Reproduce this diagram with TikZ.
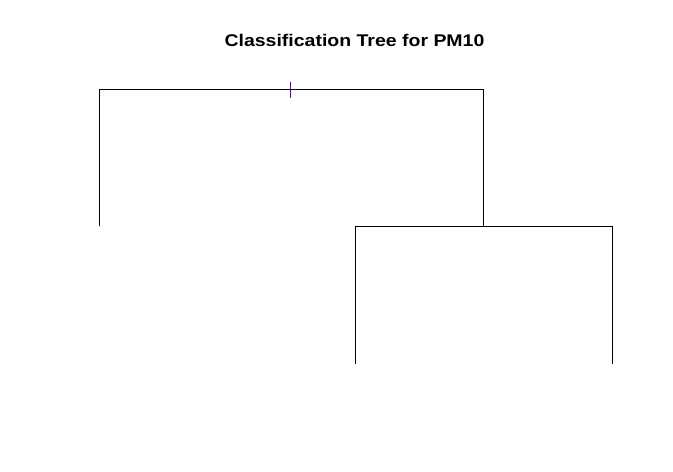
\documentclass[tikz,border=0pt]{standalone}
\usepackage{fontspec}
\setmainfont{Liberation Sans}
\begin{document}
\begin{tikzpicture}[x=1bp,y=-1bp,
  branch/.style={draw=black,line width=1bp},
  tick/.style={draw={rgb,255:red,90;green,0;blue,170},line width=1.3bp}]
\useasboundingbox (0,0) rectangle (673,472);
\node[font=\bfseries\fontsize{17}{19}\selectfont,anchor=base,xscale=1.15,inner sep=0pt] (title) at (354.5,47) {Classification Tree for PM10};
\coordinate (rootL) at (99.5,89.5);
\coordinate (rootR) at (483.5,89.5);
\coordinate (leaf1) at (99.5,226.5);
\coordinate (n2) at (483.5,226.5);
\coordinate (n2L) at (355.5,226.5);
\coordinate (n2R) at (612.5,226.5);
\coordinate (leaf2) at (355.5,363.5);
\coordinate (leaf3) at (612.5,363.5);
\coordinate (tickT) at (290.5,82.5);
\coordinate (tickB) at (290.5,98);
\draw[branch] (leaf1) -- (rootL) -- (rootR) -- (n2);
\draw[branch] (leaf2) -- (n2L) -- (n2R) -- (leaf3);
\draw[tick] (tickT) -- (tickB);
\end{tikzpicture}
\end{document}
